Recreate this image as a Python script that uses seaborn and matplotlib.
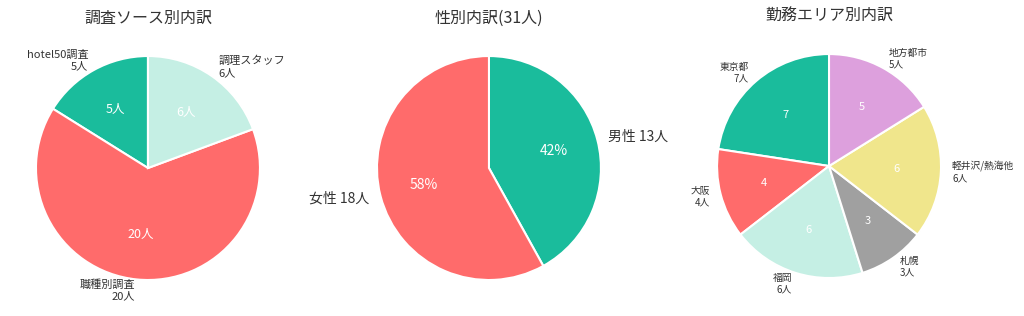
import matplotlib
matplotlib.use("Agg")
import matplotlib.pyplot as plt
import seaborn as sns

# データ
source_labels = ["hotel50調査", "職種別調査", "調理スタッフ"]
source_counts = [5, 20, 6]
source_colors = ["#1abc9c", "#ff6b6b", "#c5efe4"]

gender_labels = ["男性", "女性"]
gender_counts = [13, 18]
gender_colors = ["#1abc9c", "#ff6b6b"]

area_labels = ["東京都", "大阪", "福岡", "札幌", "軽井沢/熱海他", "地方都市"]
area_counts = [7, 4, 6, 3, 6, 5]
area_colors = ["#1abc9c", "#ff6b6b", "#c5efe4", "#a0a0a0", "#f0e68c", "#dda0dd"]

sns.set_style("white")
plt.rcParams["font.family"] = ["Noto Sans CJK JP", "DejaVu Sans"]
plt.rcParams["text.color"] = "#333333"

fig = plt.figure(figsize=(10.24, 3.16), dpi=100)
ax1 = fig.add_axes([0.0078, 0.0253, 0.2734, 0.886])
ax2 = fig.add_axes([0.3408, 0.0253, 0.2734, 0.886])
ax3 = fig.add_axes([0.6729, 0.0316, 0.2734, 0.886])

wedge = {"edgecolor": "white", "linewidth": 1.5}


def count_fmt(counts, suffix=""):
    total = sum(counts)
    return lambda p: f"{round(p * total / 100)}{suffix}"


# 調査ソース別
_, t1, a1 = ax1.pie(source_counts,
                    labels=[f"{l}\n{c}人" for l, c in zip(source_labels, source_counts)],
                    colors=source_colors, startangle=90, counterclock=True,
                    autopct=count_fmt(source_counts, "人"), wedgeprops=wedge,
                    textprops={"fontsize": 8})
for t in a1:
    t.set_color("white")
    t.set_fontsize(9)
ax1.set_title("調査ソース別内訳", fontsize=11.5, pad=4)

# 性別
_, t2, a2 = ax2.pie(gender_counts,
                    labels=[f"{l} {c}人" for l, c in zip(gender_labels, gender_counts)],
                    colors=gender_colors, startangle=90, counterclock=False,
                    autopct="%1.0f%%", wedgeprops=wedge,
                    textprops={"fontsize": 10})
for t in a2:
    t.set_color("white")
ax2.set_title(f"性別内訳({sum(gender_counts)}人)", fontsize=11.5, pad=4)

# 勤務エリア別
_, t3, a3 = ax3.pie(area_counts,
                    labels=[f"{l}\n{c}人" for l, c in zip(area_labels, area_counts)],
                    colors=area_colors, startangle=90, counterclock=True,
                    autopct=count_fmt(area_counts), wedgeprops=wedge,
                    textprops={"fontsize": 7})
for t in a3:
    t.set_color("white")
    t.set_fontsize(8)
ax3.set_title("勤務エリア別内訳", fontsize=11.5, pad=4)

fig.savefig("out.png", dpi=100)
